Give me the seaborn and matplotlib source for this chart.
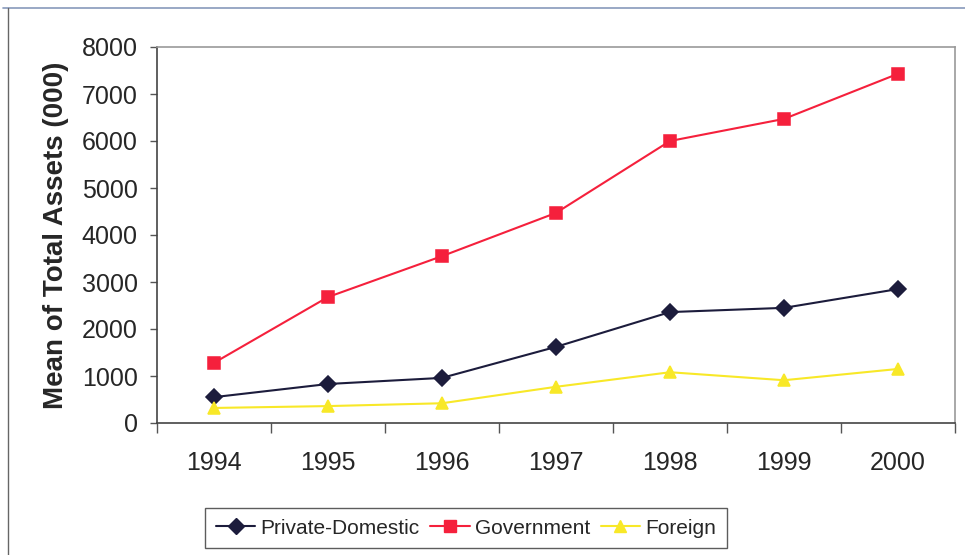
import matplotlib
matplotlib.use("Agg")
import matplotlib.pyplot as plt
import seaborn as sns
import pandas as pd
from matplotlib.lines import Line2D

years = ["1994", "1995", "1996", "1997", "1998", "1999", "2000"]
private_domestic = [550, 830, 960, 1620, 2360, 2450, 2850]
government = [1280, 2680, 3550, 4470, 6000, 6470, 7430]
foreign = [320, 360, 420, 770, 1080, 910, 1150]
series_names = ["Private-Domestic", "Government", "Foreign"]
colors = {"Private-Domestic": "#1c1c3c", "Government": "#f5203c", "Foreign": "#f8e828"}
markers = ["D", "s", "^"]

df = pd.DataFrame({
    "Year": years * 3,
    "Value": private_domestic + government + foreign,
    "Series": [s for s in series_names for _ in years],
})

sns.set_theme(style="white")
plt.rcParams["font.family"] = ["Liberation Sans", "DejaVu Sans"]

fig = plt.figure(figsize=(9.65, 5.55), dpi=100)
ax = fig.add_axes([157 / 965, 1 - 423 / 555, (955 - 157) / 965, (423 - 47) / 555])

sns.pointplot(data=df, x="Year", y="Value", hue="Series", order=years,
              hue_order=series_names, palette=colors, markers=markers,
              linestyles="-", errorbar=None, ax=ax, markersize=8, linewidth=1.5,
              legend=False)

ax.set_xlim(-0.5, len(years) - 0.5)
ax.set_ylim(0, 8000)
ax.set_yticks(range(0, 8001, 1000))
ax.set_xlabel("")
ax.set_ylabel("Mean of Total Assets (000)", fontsize=20, fontweight="bold", labelpad=9)

ax.tick_params(axis="y", which="major", direction="out", length=5, width=1,
               color="#555555", labelsize=18, pad=9, left=True)
ax.tick_params(axis="x", which="major", length=0, labelsize=18, pad=20)
ax.set_xticks([i - 0.5 for i in range(len(years) + 1)], minor=True)
ax.tick_params(axis="x", which="minor", direction="out", length=7, width=1,
               color="#555555", bottom=True)

for side in ["left", "bottom"]:
    ax.spines[side].set_color("#444444")
    ax.spines[side].set_linewidth(1.2)
for side in ["top", "right"]:
    ax.spines[side].set_color("#999999")
    ax.spines[side].set_linewidth(1.2)

handles = [Line2D([0], [0], color=colors[s], marker=m, markersize=8, linewidth=1.5)
           for s, m in zip(series_names, markers)]
leg = fig.legend(handles, series_names, loc="center", bbox_to_anchor=(466 / 965, 1 - 528 / 555),
                 ncol=3, fontsize=15, frameon=True, fancybox=False,
                 handlelength=1.9, handletextpad=0.25, columnspacing=0.5, borderpad=0.5,
                 borderaxespad=0.2)
leg.get_frame().set_edgecolor("#333333")
leg.get_frame().set_linewidth(1.0)

# figure border lines (top and left)
fig.add_artist(Line2D([0.003, 1], [1 - 8 / 555, 1 - 8 / 555], color="#8899bb", linewidth=1.2))
fig.add_artist(Line2D([8 / 965, 8 / 965], [0, 1 - 8 / 555], color="#666666", linewidth=1.0))

fig.savefig("out.png", dpi=100)
